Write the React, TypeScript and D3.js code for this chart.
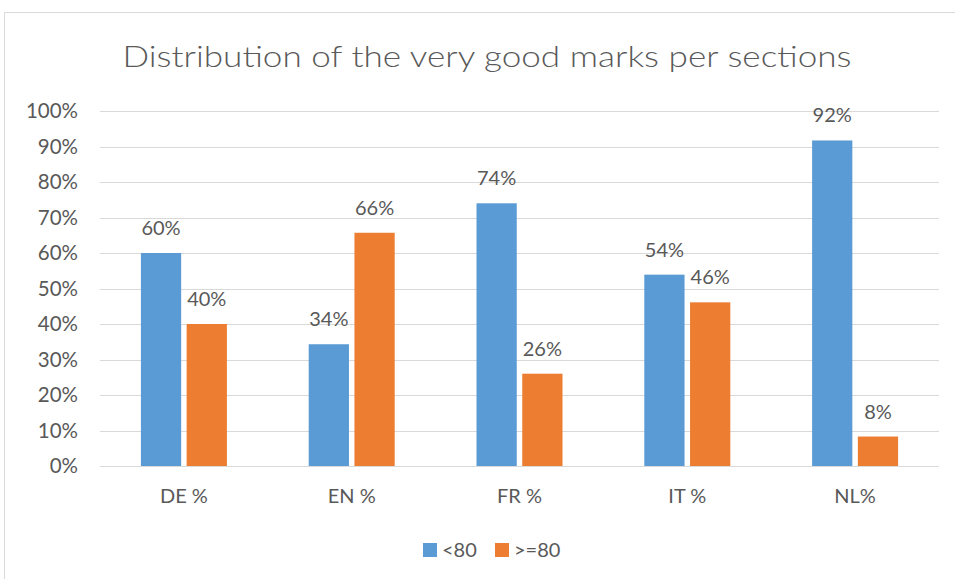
import React from "react";
import * as d3 from "d3";

const categories = ["DE %", "EN %", "FR %", "IT %", "NL%"];
const seriesNames = ["<80", ">=80"];
const below80 = [0.6, 0.343, 0.74, 0.539, 0.917];
const atLeast80 = [0.4, 0.657, 0.26, 0.461, 0.083];
const yTicks = [0, 0.1, 0.2, 0.3, 0.4, 0.5, 0.6, 0.7, 0.8, 0.9, 1.0];
const colors = ["#5B9BD5", "#ED7D31"];
const title = "Distribution of the very good marks per sections";

const W = 955;
const H = 579;
const FONT = "Lato, 'Open Sans', sans-serif";
const TEXT = "#595959";

export default function App() {
  const left = 100;
  const right = 939;
  const top = 111;
  const bottom = 466;
  const x = d3.scaleBand<string>().domain(categories).range([left, right]).paddingInner(0).paddingOuter(0);
  const inner = d3.scaleBand<string>().domain(seriesNames).range([0, 86]).paddingInner(0.12);
  const y = d3.scaleLinear().domain([0, 1]).range([bottom, top]);
  const pct = d3.format(".0%");
  const series = [below80, atLeast80];

  return (
    <svg width={W} height={H} style={{ position: "absolute", left: 0, top: 0, background: "#fff" }}>
      <rect x={4.5} y={12.5} width={W + 10} height={H + 10} fill="#fff" stroke="#D9D9D9" />
      <text x={487} y={67} textAnchor="middle" fontFamily={FONT} fontSize={30} fill={TEXT} fontWeight={300}
        textLength={729} lengthAdjust="spacingAndGlyphs">{title}</text>
      {yTicks.map((t) => (
        <g key={t}>
          <line x1={left} x2={right} y1={Math.round(y(t)) + 0.5} y2={Math.round(y(t)) + 0.5} stroke="#D9D9D9" strokeWidth={1} />
          <text x={78} y={y(t) + 7} textAnchor="end" fontFamily={FONT} fontSize={20.5} fill={TEXT}>{pct(t)}</text>
        </g>
      ))}
      {categories.map((c, i) => {
        const gx = (x(c) as number) + x.bandwidth() / 2 - 43;
        return (
          <g key={c}>
            {series.map((s, j) => {
              const bx = gx + (inner(seriesNames[j]) as number);
              const bw = inner.bandwidth();
              return (
                <g key={j}>
                  <rect x={bx} y={y(s[i])} width={bw} height={bottom - y(s[i])} fill={colors[j]} />
                  <text x={bx + bw / 2} y={y(s[i]) - 18} textAnchor="middle" fontFamily={FONT} fontSize={20} fill={TEXT}>{pct(s[i])}</text>
                </g>
              );
            })}
            <text x={(x(c) as number) + x.bandwidth() / 2} y={503} textAnchor="middle" fontFamily={FONT} fontSize={20} fill={TEXT}>{c}</text>
          </g>
        );
      })}
      <line x1={left} x2={right} y1={bottom + 0.5} y2={bottom + 0.5} stroke="#D9D9D9" />
      {seriesNames.map((n, j) => {
        const lx = j === 0 ? 423 : 495;
        return (
          <g key={n}>
            <rect x={lx} y={543} width={14} height={14} fill={colors[j]} />
            <text x={lx + 19} y={557} fontFamily={FONT} fontSize={20} fill={TEXT}>{n}</text>
          </g>
        );
      })}
    </svg>
  );
}
